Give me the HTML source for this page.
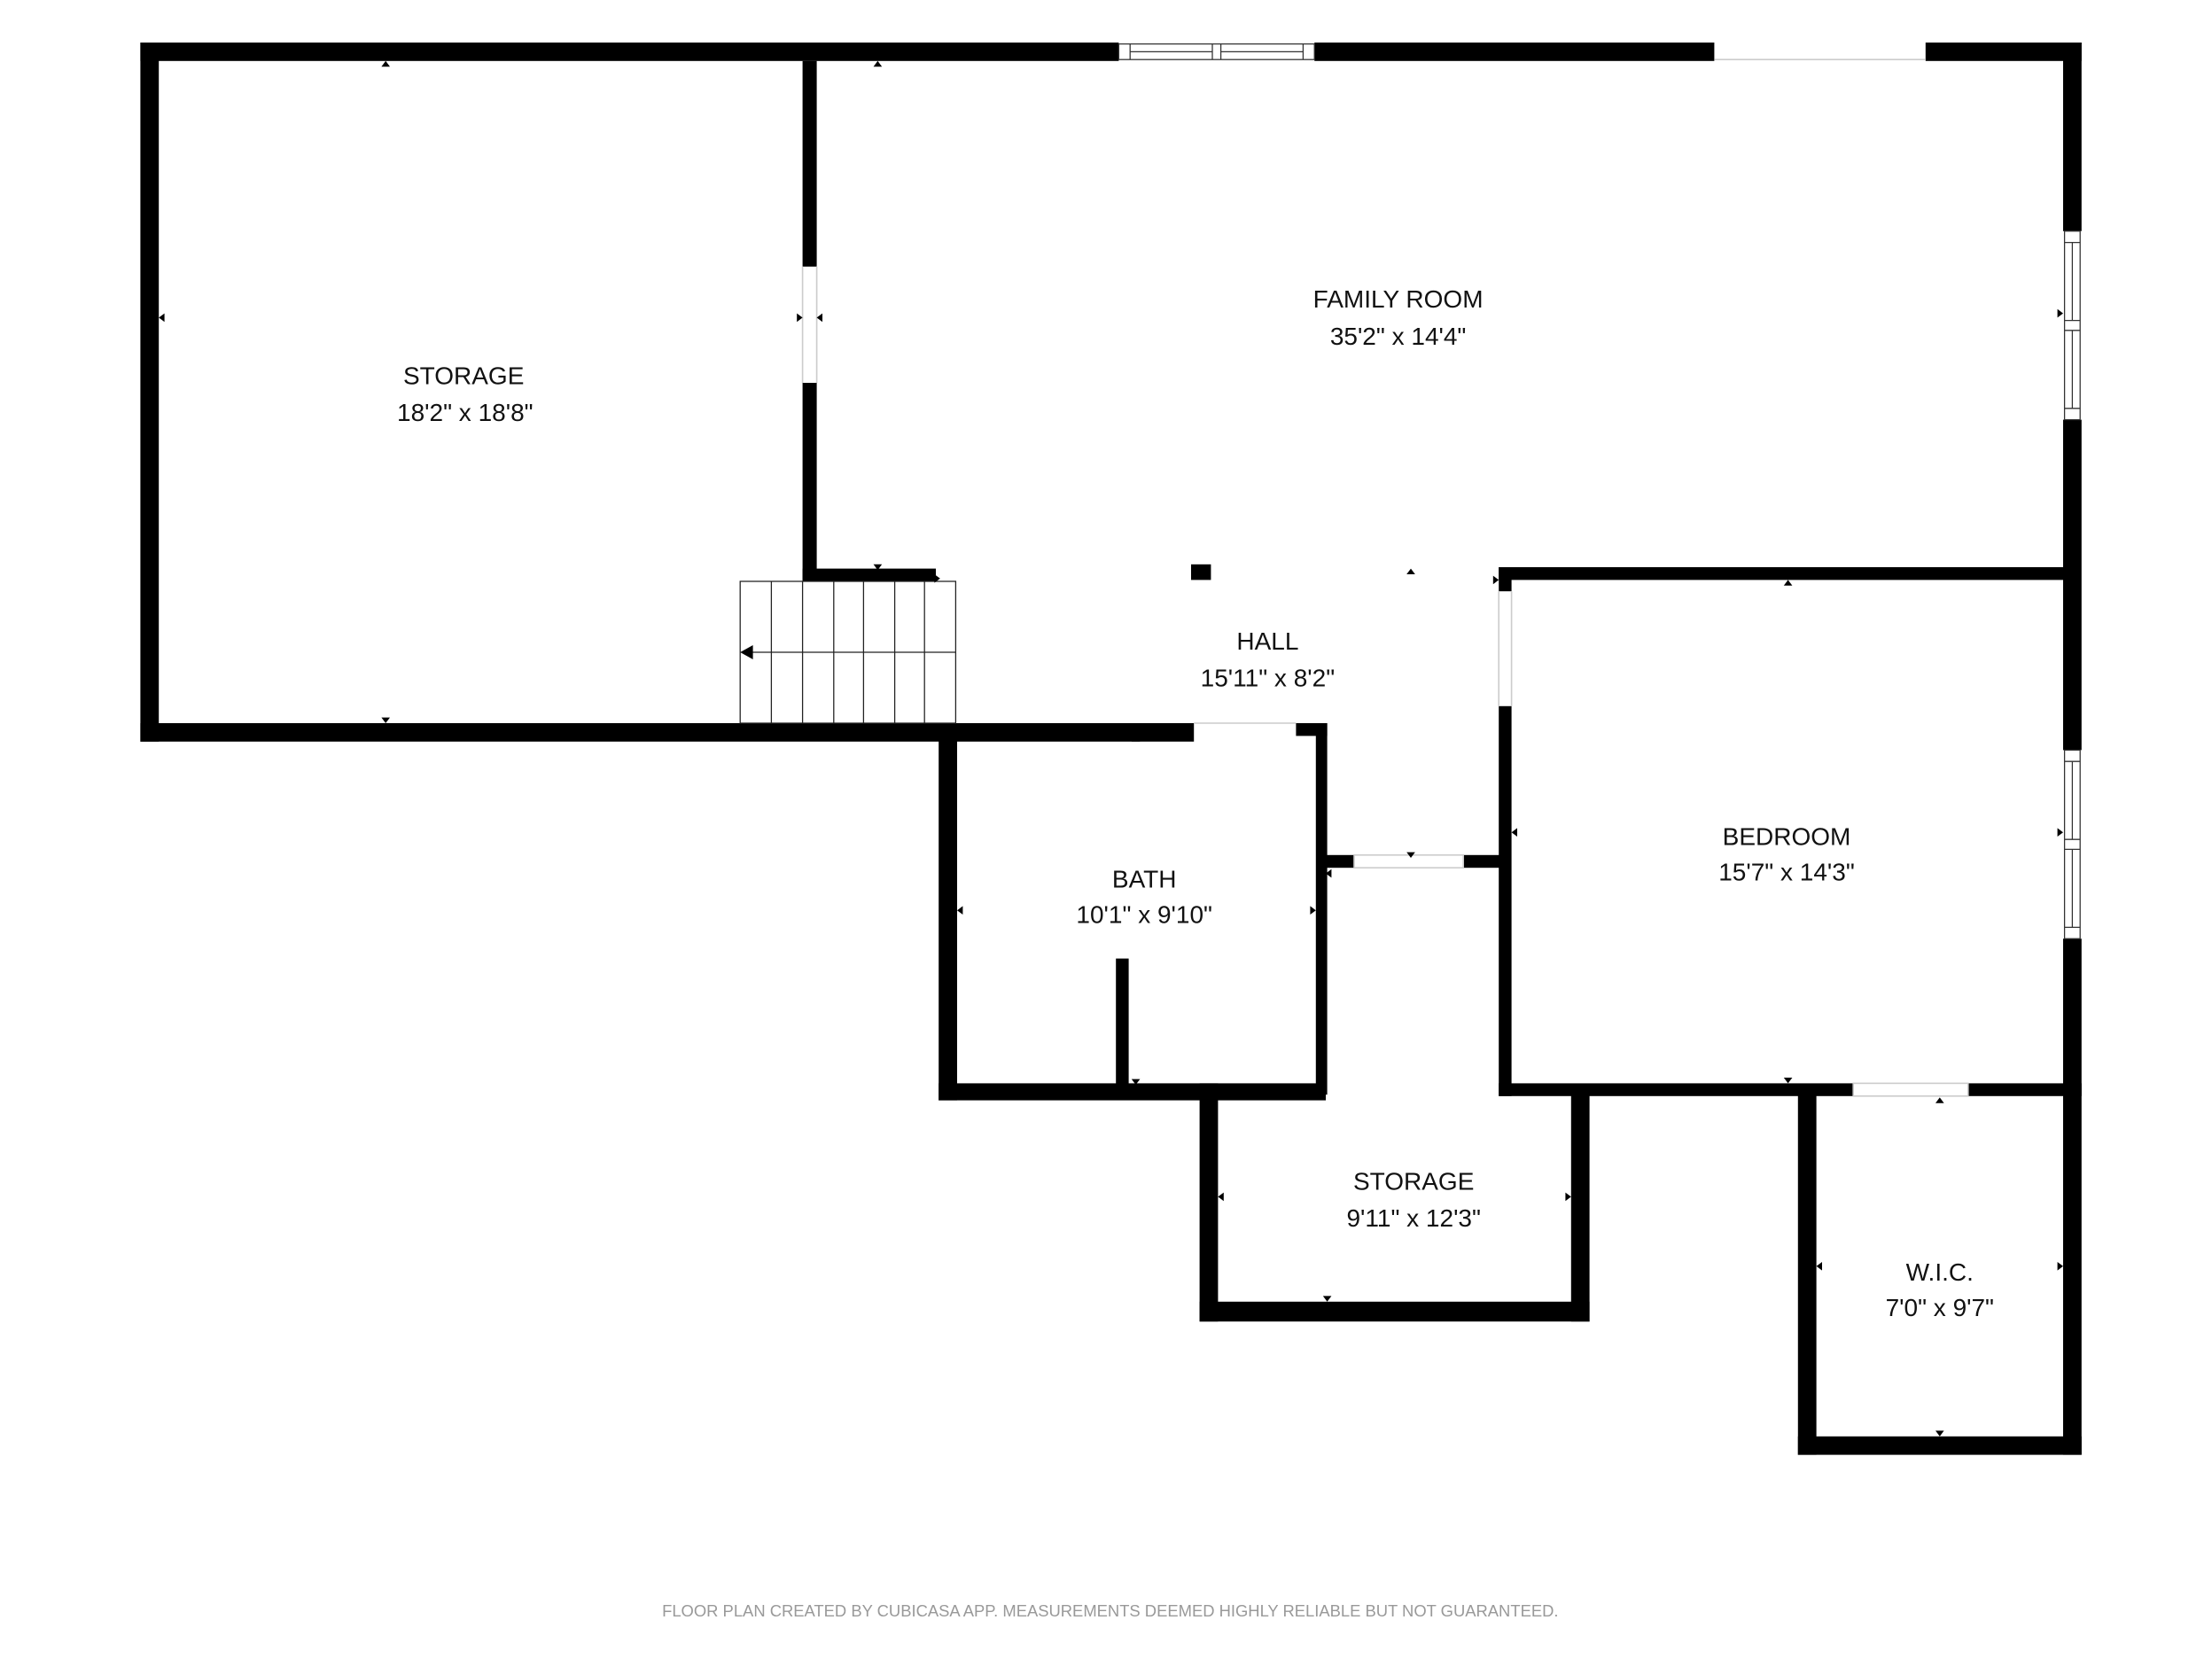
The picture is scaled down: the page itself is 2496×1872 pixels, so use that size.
<!DOCTYPE html>
<html><head><meta charset="utf-8"><style>
html,body{margin:0;padding:0;background:#fff;}
svg{display:block;}
text{font-family:"Liberation Sans",sans-serif;fill:#111;text-anchor:middle;}
</style></head><body>
<svg width="2496" height="1872" viewBox="0 0 1560 1170" xmlns="http://www.w3.org/2000/svg">
<g fill="#000">
<!-- top wall -->
<rect x="99" y="30" width="690" height="13"/>
<rect x="927" y="30" width="282" height="13"/>
<rect x="1358" y="30" width="110" height="13"/>
<!-- left wall -->
<rect x="99" y="30" width="13" height="493"/>
<!-- storage bottom -->
<rect x="99" y="510" width="743" height="13"/>
<rect x="914" y="510" width="22" height="9"/>
<!-- divider storage/family -->
<rect x="566" y="43" width="10" height="145"/>
<rect x="566" y="270" width="10" height="140"/>
<rect x="566" y="401" width="94" height="9"/>
<!-- right wall -->
<rect x="1455" y="30" width="13" height="133"/>
<rect x="1455" y="296" width="13" height="233"/>
<rect x="1455" y="662" width="13" height="364"/>
<!-- bedroom -->
<rect x="1057" y="400" width="405" height="9"/>
<rect x="1057" y="400" width="9" height="17"/>
<rect x="1057" y="498" width="9" height="275"/>
<rect x="1057" y="764" width="250" height="9"/>
<rect x="1388" y="764" width="80" height="9"/>
<!-- bath -->
<rect x="662" y="517" width="13" height="259"/>
<rect x="662" y="764" width="273" height="12"/>
<rect x="928" y="510" width="8" height="262"/>
<rect x="787" y="676" width="9" height="96"/>
<!-- hall closet -->
<rect x="935" y="603" width="20" height="9"/>
<rect x="1032" y="603" width="28" height="9"/>
<!-- storage 2 -->
<rect x="846" y="764" width="13" height="168"/>
<rect x="846" y="918" width="275" height="14"/>
<rect x="1108" y="770" width="13" height="162"/>
<!-- WIC -->
<rect x="1268" y="770" width="13" height="256"/>
<rect x="1268" y="1013" width="200" height="13"/>
<!-- column -->
<rect x="840" y="398" width="14" height="11"/>
</g>
<g fill="#fff" stroke="#333" stroke-width="0.8">
<!-- top window -->
<rect x="789" y="31" width="138" height="11"/>
<line x1="797" y1="31" x2="797" y2="42"/><line x1="855" y1="31" x2="855" y2="42"/>
<line x1="861" y1="31" x2="861" y2="42"/><line x1="919" y1="31" x2="919" y2="42"/>
<line x1="797" y1="36.5" x2="855" y2="36.5"/><line x1="861" y1="36.5" x2="919" y2="36.5"/>
<!-- right windows -->
<rect x="1456" y="163" width="11" height="133"/>
<line x1="1456" y1="171" x2="1467" y2="171"/><line x1="1456" y1="226" x2="1467" y2="226"/>
<line x1="1456" y1="233" x2="1467" y2="233"/><line x1="1456" y1="288" x2="1467" y2="288"/>
<line x1="1461.5" y1="171" x2="1461.5" y2="226"/><line x1="1461.5" y1="233" x2="1461.5" y2="288"/>
<rect x="1456" y="529" width="11" height="133"/>
<line x1="1456" y1="537" x2="1467" y2="537"/><line x1="1456" y1="592" x2="1467" y2="592"/>
<line x1="1456" y1="599" x2="1467" y2="599"/><line x1="1456" y1="654" x2="1467" y2="654"/>
<line x1="1461.5" y1="537" x2="1461.5" y2="592"/><line x1="1461.5" y1="599" x2="1461.5" y2="654"/>
</g>
<g stroke="#ccc" stroke-width="1" fill="none">
<line x1="1209" y1="42" x2="1358" y2="42"/>
<line x1="842" y1="510" x2="914" y2="510"/>
<line x1="566" y1="188" x2="566" y2="270"/><line x1="576" y1="188" x2="576" y2="270"/>
<line x1="1057" y1="417" x2="1057" y2="498"/><line x1="1066" y1="417" x2="1066" y2="498"/>
<rect x="955" y="603" width="77" height="9"/>
<rect x="1307" y="764" width="81" height="9"/>
</g>
<!-- stairs -->
<g stroke="#222" stroke-width="0.8" fill="none">
<rect x="522" y="410" width="152" height="100"/>
<line x1="544" y1="410" x2="544" y2="510"/><line x1="566" y1="410" x2="566" y2="510"/>
<line x1="588" y1="410" x2="588" y2="510"/><line x1="609" y1="410" x2="609" y2="510"/>
<line x1="631" y1="410" x2="631" y2="510"/><line x1="652" y1="410" x2="652" y2="510"/>
<line x1="528" y1="460" x2="674" y2="460"/>
</g>
<polygon points="522,460 531,455 531,465" fill="#000"/>
<!-- small markers -->
<g fill="#000">
<polygon points="269,47 275,47 272,43"/><polygon points="616,47 622,47 619,43"/>
<polygon points="269,506 275,506 272,510"/><polygon points="616,398 622,398 619,402"/>
<polygon points="116,221 116,227 112,224"/><polygon points="562,221 562,227 566,224"/>
<polygon points="580,221 580,227 576,224"/><polygon points="1451,218 1451,224 1455,221"/>
<polygon points="992,405 998,405 995,401"/><polygon points="1053,406 1053,412 1057,409"/>
<polygon points="659,405 659,411 663,408"/><polygon points="1258,413 1264,413 1261,409"/>
<polygon points="798,523 804,523 801,519"/><polygon points="679,639 679,645 675,642"/>
<polygon points="924,639 924,645 928,642"/><polygon points="992,601 998,601 995,605"/>
<polygon points="939,613 939,619 935,616"/><polygon points="1070,584 1070,590 1066,587"/>
<polygon points="1451,584 1451,590 1455,587"/><polygon points="1258,760 1264,760 1261,764"/>
<polygon points="798,761 804,761 801,765"/><polygon points="1365,778 1371,778 1368,774"/>
<polygon points="863,841 863,847 859,844"/><polygon points="1104,841 1104,847 1108,844"/>
<polygon points="933,914 939,914 936,918"/><polygon points="1285,890 1285,896 1281,893"/>
<polygon points="1451,890 1451,896 1455,893"/><polygon points="1365,1009 1371,1009 1368,1013"/>
</g>
<!-- labels -->
<g font-size="17.5">
<text x="327" y="271">STORAGE</text><text x="328" y="297">18'2" x 18'8"</text>
<text x="986" y="217">FAMILY ROOM</text><text x="986" y="243">35'2" x 14'4"</text>
<text x="894" y="458">HALL</text><text x="894" y="484">15'11" x 8'2"</text>
<text x="1260" y="596">BEDROOM</text><text x="1260" y="621">15'7" x 14'3"</text>
<text x="807" y="626">BATH</text><text x="807" y="651">10'1" x 9'10"</text>
<text x="997" y="839">STORAGE</text><text x="997" y="865">9'11" x 12'3"</text>
<text x="1368" y="903">W.I.C.</text><text x="1368" y="928">7'0" x 9'7"</text>
</g>
<text x="783" y="1140" font-size="11.5" style="fill:#999">FLOOR PLAN CREATED BY CUBICASA APP. MEASUREMENTS DEEMED HIGHLY RELIABLE BUT NOT GUARANTEED.</text>
</svg>
</body></html>
